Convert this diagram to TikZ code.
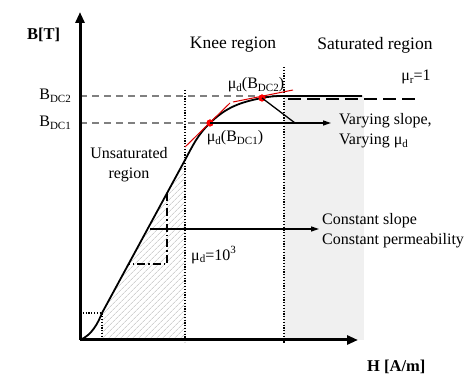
\documentclass[tikz,border=0pt]{standalone}
\usepackage{fontspec}
\setmainfont{Liberation Serif}
\usetikzlibrary{arrows.meta,patterns.meta}
\newcommand\lowtxt[1]{\raisebox{-0.35ex}{\fontsize{11}{11}\selectfont #1}}
\newcommand\uptxt[1]{\raisebox{0.85ex}{\fontsize{11}{11}\selectfont #1}}

\begin{document}
\begin{tikzpicture}[
    x=1pt,
    y=1pt,
    font=\fontsize{16}{20}\selectfont,
    lbl/.style={inner sep=0pt},
    heading/.style={inner sep=0pt,font=\fontsize{17.5}{20}\selectfont},
    axis/.style={line width=3pt,-{Triangle[length=11pt,width=9pt]}},
    bhcurve/.style={line width=1.8pt},
    guide/.style={gray,line width=1.2pt,dash pattern=on 7pt off 5pt},
    border/.style={line width=1.2pt,dash pattern=on 1.2pt off 1.6pt},
    tangent/.style={red!85!black,line width=1pt},
    dot/.style={circle,fill=red,inner sep=0pt,minimum size=7pt},
    pointer/.style={line width=1.3pt,-{Triangle[length=8pt,width=5pt]}}
]
\useasboundingbox (0,0) rectangle (474,383);

\fill[black!6] (284,43) rectangle (364,287);
\fill[pattern={Lines[angle=45,distance=4pt,line width=0.6pt]},pattern color=gray!55]
    (102,70) -- (185,223) -- (185,43) -- (102,43) -- cycle;

\coordinate (o) at (80,43);
\coordinate (ytop) at (80,371);
\coordinate (xend) at (358,43);
\coordinate (knee0) at (102,70);
\coordinate (knee1) at (185,223);
\coordinate (sat0) at (283,287);
\coordinate (sat1) at (362,287);
\coordinate (join) at (295,260);
\coordinate (varend) at (331,260);
\coordinate (cs) at (150,154);
\coordinate (csend) at (319,154);

\draw[guide] (80,287) -- (sat0);
\draw[guide] (80,260) -- (210,260);
\draw[border] (185,293) -- (185,41);
\draw[border] (284,316) -- (284,40);
\draw[border] (80,70) -- (knee0) -- (102,43);

\draw[line width=1.3pt,dash pattern=on 8pt off 3pt on 1.5pt off 3pt]
    (167,190) -- (167,119) -- (128,119);

\draw[axis] (o) -- (ytop);
\draw[axis] (o) -- (xend);

\draw[line width=2.6pt,dash pattern=on 13pt off 6pt] (288,284) -- (417,284);

\node[dot] (d1) at (210,260) {};
\node[dot] (d2) at (262,285) {};

\draw[bhcurve] (o) .. controls (92,48) and (98,60) .. (knee0) -- (knee1)
    to[out=61.5,in=224] (d1.center) to[out=44,in=191] (d2.center)
    to[out=11,in=180] (sat0) -- (sat1);

\draw[tangent] (185,236) -- (230,280);
\draw[tangent] (233,281) -- (293,293);
\node[dot] at (d1) {};
\node[dot] at (d2) {};

\draw[pointer] (d1.center) -- (varend);
\draw[line width=1.3pt] (d2.center) -- (join);
\draw[pointer] (cs) -- (csend);

\node[lbl,anchor=west] (bt) at (27,348) {\fontsize{16.5}{20}\selectfont\bfseries B[T]};
\node[lbl,anchor=west] (ham) at (367,16) {\fontsize{16.5}{20}\selectfont\bfseries H [A/m]};
\node[lbl,anchor=east] (bdc2) at (71,287) {B\lowtxt{DC2}};
\node[lbl,anchor=east] (bdc1) at (71,260) {B\lowtxt{DC1}};
\node[heading] (knee) at (233,338) {Knee region};
\node[heading] (satr) at (375,338) {Saturated region};
\node[lbl,align=center] (unsat) at (129,218) {Unsaturated\\region};
\node[lbl] (mur) at (416,306) {μ\lowtxt{r}=1};
\node[lbl] (mud2) at (256,298) {μ\lowtxt{d}(B\lowtxt{DC2})};
\node[lbl] (mud1) at (235,245) {μ\lowtxt{d}(B\lowtxt{DC1})};
\node[lbl,anchor=west,align=left] (vary) at (339,252) {Varying slope,\\Varying μ\lowtxt{d}};
\node[lbl,anchor=west,align=left] (const) at (322,152) {Constant slope\\Constant permeability};
\node[lbl,anchor=west] (mu3) at (191,128) {μ\lowtxt{d}=10\uptxt{3}};
\end{tikzpicture}
\end{document}
